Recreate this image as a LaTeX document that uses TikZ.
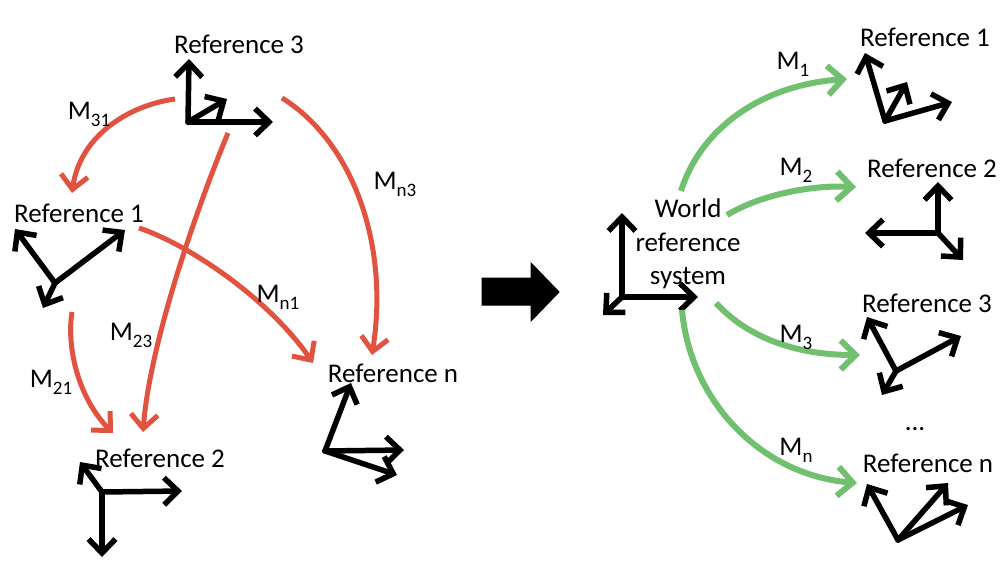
\documentclass[tikz,border=0pt]{standalone}
\usepackage{fontspec}
\setmainfont{Carlito}
\usetikzlibrary{arrows.meta}
\definecolor{redarc}{RGB}{226,82,64}
\definecolor{greenarc}{RGB}{112,192,112}
\newcommand{\Mlab}[1]{M\raisebox{-7.5pt}{\fontsize{19}{20}\selectfont #1}}
\begin{document}
\begin{tikzpicture}[x=1pt,y=-1pt,
  lbl/.style={font=\fontsize{27}{33.5}\selectfont, inner sep=0pt, anchor=base},
  axisarr/.style={draw=black, line width=5.5pt, line cap=round, line join=round,
     -{Straight Barb[length=14pt,width=27pt]}},
  redarr/.style={draw=redarc, line width=5pt,
     -{Straight Barb[length=14pt,width=27pt]}},
  greenarr/.style={draw=greenarc, line width=6pt,
     -{Straight Barb[length=15pt,width=29pt]}},
  bigarrow/.style={fill=black, draw=black, line width=1pt, line join=miter}]
\fill[white] (0,0) rectangle (1000,578);
\useasboundingbox (0,0) rectangle (1000,578);

% ---------- left side: text labels ----------
\node[lbl] (L3) at (239,53) {Reference 3};
\node[lbl] (L1) at (79,222) {Reference 1};
\node[lbl] (L2) at (160,467) {Reference 2};
\node[lbl] (Ln) at (393,382) {Reference n};

% ---------- left side: axes ----------
% Reference 3
\coordinate (o3) at (188,122);
\coordinate (o3a) at (189,59);
\coordinate (o3b) at (273,122);
\coordinate (o3c) at (227,99);
\draw[axisarr] (o3) -- (o3a);
\draw[axisarr] (o3) -- (o3b);
\draw[axisarr] (o3) -- (o3c);
% Reference 1
\coordinate (o1) at (55,283);
\coordinate (o1a) at (15,229);
\coordinate (o1b) at (125,230);
\coordinate (o1c) at (43,308);
\draw[axisarr] (o1) -- (o1a);
\draw[axisarr] (o1) -- (o1b);
\draw[axisarr] (o1) -- (o1c);
% Reference 2
\coordinate (o2) at (102,492);
\coordinate (o2a) at (182,491);
\coordinate (o2b) at (102,557);
\coordinate (o2c) at (80,462);
\draw[axisarr] (o2) -- (o2a);
\draw[axisarr] (o2) -- (o2b);
\draw[axisarr] (o2) -- (o2c);
% Reference n
\coordinate (on) at (325,451);
\coordinate (ona) at (351,383);
\coordinate (onb) at (404,450);
\coordinate (onc) at (397,475);
\draw[axisarr] (on) -- (ona);
\draw[axisarr] (on) -- (onb);
\draw[axisarr] (on) -- (onc);

% ---------- left side: red transforms ----------
\coordinate (s31) at (175,99);   \coordinate (e31) at (72,193);
\coordinate (sn3) at (282,98);   \coordinate (en3) at (372,355);
\coordinate (sn1) at (139,228);  \coordinate (en1) at (313,363);
\coordinate (s23) at (228,133);  \coordinate (e23) at (143,432);
\coordinate (s21) at (72,312);   \coordinate (e21) at (113,433);
\draw[redarr] (s31) .. controls (130,105) and (80,135) .. (e31);
\draw[redarr] (sn3) .. controls (350,140) and (390,240) .. (en3);
\draw[redarr] (sn1) .. controls (190,245) and (270,300) .. (en1);
\draw[redarr] (s23) .. controls (200,200) and (150,340) .. (e23);
\draw[redarr] (s21) .. controls (66,350) and (80,400) .. (e21);

\node[lbl] (m31) at (89,119) {\Mlab{31}};
\node[lbl] (mn3) at (395,189) {\Mlab{n3}};
\node[lbl] (mn1) at (278,302) {\Mlab{n1}};
\node[lbl] (m23) at (131,340) {\Mlab{23}};
\node[lbl] (m21) at (51,387) {\Mlab{21}};

% ---------- big arrow ----------
\draw[bigarrow] (482,278) -- (531,278) -- (531,263) -- (559,292) -- (531,321) -- (531,305) -- (482,305) -- cycle;

% ---------- right side ----------
\node[lbl, align=center, anchor=center] (W) at (688,244) {World\\reference\\system};
\coordinate (ow) at (622,297);
\coordinate (owa) at (622,213);
\coordinate (owb) at (698,297);
\coordinate (owc) at (603,315);
\draw[axisarr] (ow) -- (owa);
\draw[axisarr] (ow) -- (owb);
\draw[axisarr] (ow) -- (owc);

\node[lbl] (R1) at (925,47) {Reference 1};
\node[lbl] (R2) at (932,177) {Reference 2};
\node[lbl] (R3) at (927,312) {Reference 3};
\node[lbl] (Rn) at (928,472) {Reference n};
\node[lbl] (dots) at (915,430) {...};

% Reference 1 (right)
\coordinate (p1) at (885,121);
\coordinate (p1a) at (865,53);
\coordinate (p1b) at (952,102);
\coordinate (p1c) at (907,82);
\draw[axisarr] (p1) -- (p1a);
\draw[axisarr] (p1) -- (p1b);
\draw[axisarr] (p1) -- (p1c);
% Reference 2 (right)
\coordinate (p2) at (938,233);
\coordinate (p2a) at (938,182);
\coordinate (p2b) at (865,233);
\coordinate (p2c) at (963,260);
\draw[axisarr] (p2) -- (p2a);
\draw[axisarr] (p2) -- (p2b);
\draw[axisarr] (p2) -- (p2c);
% Reference 3 (right)
\coordinate (p3) at (896,371);
\coordinate (p3a) at (867,317);
\coordinate (p3b) at (961,336);
\coordinate (p3c) at (882,395);
\draw[axisarr] (p3) -- (p3a);
\draw[axisarr] (p3) -- (p3b);
\draw[axisarr] (p3) -- (p3c);
% Reference n (right)
\coordinate (pn) at (898,540);
\coordinate (pna) at (867,484);
\coordinate (pnb) at (948,483);
\coordinate (pnc) at (968,505);
\draw[axisarr] (pn) -- (pna);
\draw[axisarr] (pn) -- (pnb);
\draw[axisarr] (pn) -- (pnc);

% green transforms
\coordinate (g1s) at (681,191);  \coordinate (g1e) at (847,79);
\coordinate (g2s) at (727,215);  \coordinate (g2e) at (856,187);
\coordinate (g3s) at (716,303);  \coordinate (g3e) at (860,355);
\coordinate (gns) at (682,310);  \coordinate (gne) at (857,483);
\draw[greenarr] (g1s) .. controls (700,130) and (760,85) .. (g1e);
\draw[greenarr] (g2s) .. controls (760,195) and (810,185) .. (g2e);
\draw[greenarr] (g3s) .. controls (750,340) and (800,355) .. (g3e);
\draw[greenarr] (gns) .. controls (690,400) and (760,475) .. (gne);

\node[lbl] (m1) at (793,69) {\Mlab{1}};
\node[lbl] (m2) at (796,175) {\Mlab{2}};
\node[lbl] (m3) at (796,342) {\Mlab{3}};
\node[lbl] (mn) at (796,455) {\Mlab{n}};
\end{tikzpicture}
\end{document}
